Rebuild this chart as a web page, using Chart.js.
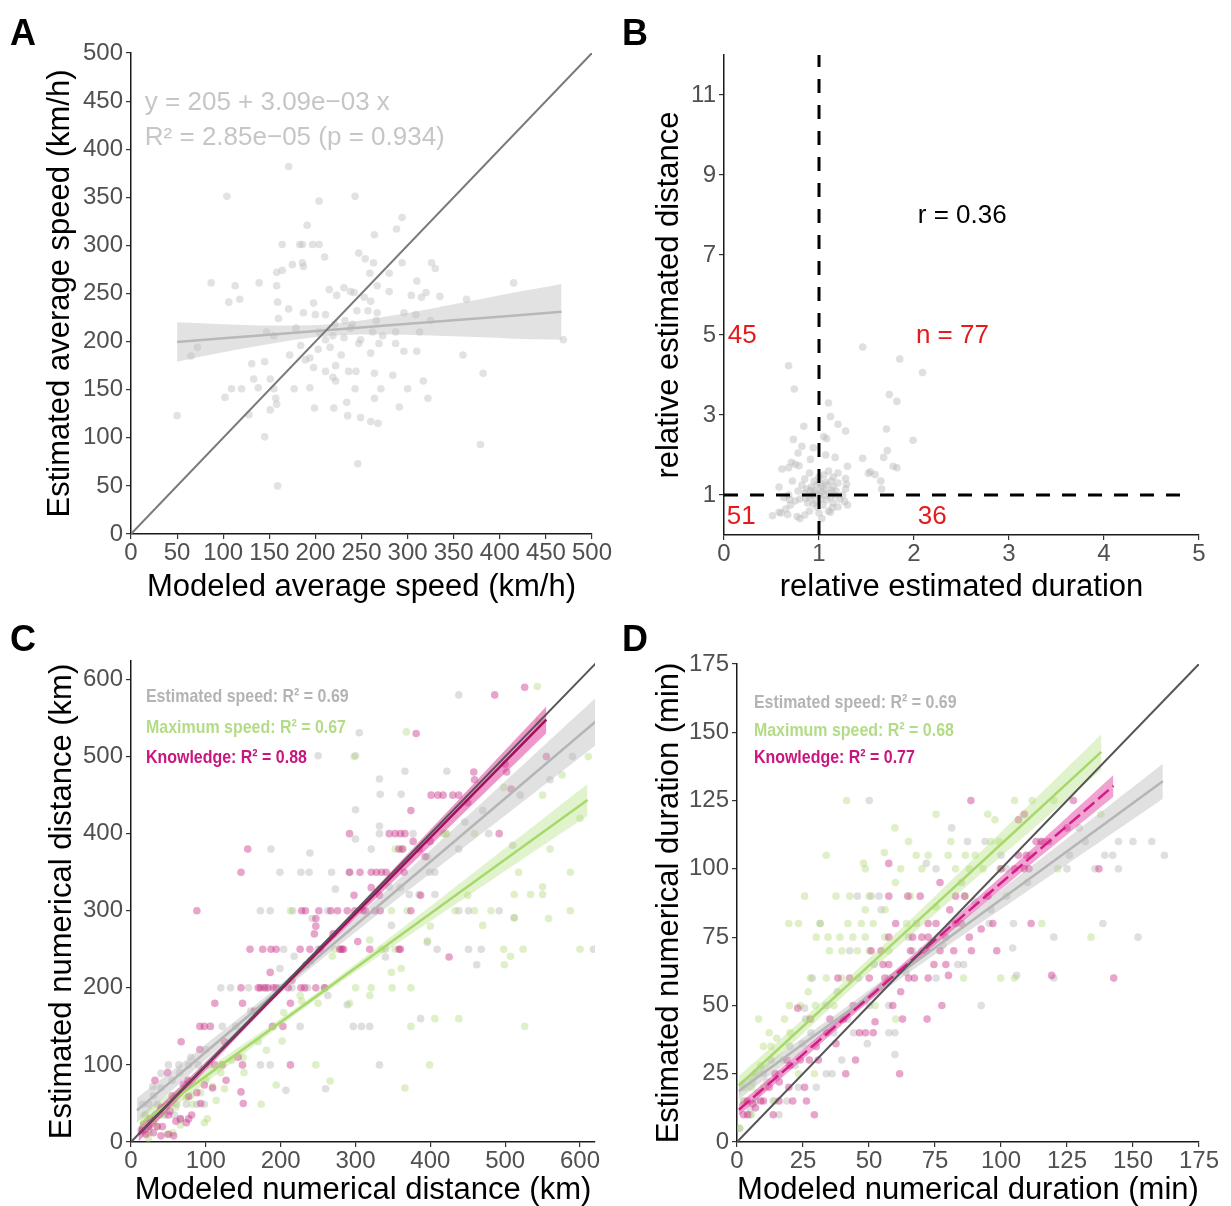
<!DOCTYPE html>
<html><head><meta charset="utf-8">
<script src="https://cdn.jsdelivr.net/npm/chart.js@4.4.0/dist/chart.umd.min.js"></script>
<style>
html,body{margin:0;padding:0;background:#fff;}
#wrap{position:relative;width:1231px;height:1206px;overflow:hidden;background:#fff;}
canvas{position:absolute;}
</style></head><body><div id="wrap">
<canvas id="cA" width="615" height="603" style="left:0;top:0"></canvas>
<canvas id="cB" width="616" height="603" style="left:615px;top:0"></canvas>
<canvas id="cC" width="615" height="603" style="left:0;top:603px"></canvas>
<canvas id="cD" width="616" height="603" style="left:615px;top:603px"></canvas>
</div>
<script>
// ---------------- DATA ----------------
// Panel A: modeled vs estimated average speed (km/h)
const aPoints = [[171,382],[104,351],[243,351],[204,346],[294,329],[191,321],[288,317],[164,301],[183,301],[186,301],[197,301],[204,301],[264,311],[247,292],[254,286],[263,282],[294,282],[326,282],[330,276],[186,282],[187,278],[210,288],[164,274],[158,272],[280,271],[259,271],[87,261],[139,261],[113,258],[415,261],[310,263],[364,244],[118,244],[106,241],[159,241],[198,240],[231,256],[215,254],[238,252],[242,251],[280,252],[320,251],[304,248],[315,246],[335,247],[267,258],[223,248],[253,246],[260,242],[171,234],[187,230],[200,228],[211,228],[245,232],[257,232],[267,230],[296,230],[309,228],[325,222],[160,224],[147,210],[155,206],[179,214],[204,210],[219,206],[231,204],[238,214],[249,202],[262,210],[273,206],[287,210],[313,210],[72,194],[65,185],[469,202],[360,186],[172,186],[184,196],[194,183],[203,192],[216,194],[228,186],[247,198],[260,188],[269,198],[287,198],[296,190],[310,190],[131,177],[145,179],[189,181],[198,173],[211,169],[222,175],[236,169],[244,169],[264,167],[284,165],[382,167],[133,161],[151,161],[219,163],[317,159],[109,151],[120,151],[138,152],[155,151],[177,151],[194,152],[222,159],[243,151],[271,151],[300,151],[102,142],[157,141],[264,141],[322,141],[234,137],[199,131],[220,131],[151,129],[158,135],[128,124],[50,123],[235,123],[249,121],[260,117],[268,115],[291,132],[145,101],[379,93],[246,73],[159,50],[158,258],[175,280],[221,218],[232,222],[240,218],[211,202],[266,222]];
const aFitX = [50, 100, 150, 215, 280, 350, 410, 467];
const aFitY = [199.6, 203.4, 207.1, 212.0, 216.9, 222.2, 226.7, 231.0];
const aFitLo = [179.1, 188.8, 197.5, 206.0, 207.3, 205.5, 203.3, 202.0];
const aFitHi = [220.1, 218.0, 216.7, 218.0, 226.5, 238.9, 250.1, 260.0];
const aTicks = [0, 50, 100, 150, 200, 250, 300, 350, 400, 450, 500];
const aText = ['y = 205 + 3.09e\u221203 x', 'R\u00b2 = 2.85e\u221205 (p = 0.934)'];

// Panel B: relative estimated duration vs relative estimated distance
const bPoints = [[1.46,4.70],[1.85,4.40],[2.09,4.06],[0.68,4.23],[0.74,3.65],[1.74,3.51],[1.82,3.34],[1.10,3.30],[1.12,2.96],[1.20,2.77],[0.84,2.72],[1.28,2.60],[1.71,2.65],[1.05,2.46],[1.99,2.37],[0.73,2.39],[1.08,2.41],[0.82,2.22],[0.94,2.18],[1.72,2.11],[0.78,2.05],[1.07,2.00],[1.68,1.94],[1.46,1.92],[0.91,1.89],[1.17,1.94],[0.71,1.82],[0.75,1.77],[0.79,1.73],[1.78,1.72],[1.82,1.68],[1.30,1.72],[0.61,1.65],[0.68,1.68],[1.52,1.54],[1.59,1.51],[1.65,1.35],[1.66,1.15],[1.54,1.58],[1.28,1.41],[1.29,1.27],[0.51,0.48],[0.58,0.57],[0.67,0.51],[0.77,0.46],[0.80,0.41],[1.03,0.41],[1.12,0.57],[1.20,0.70],[1.27,0.84],[0.58,1.20],[0.63,0.94],[0.69,0.89],[0.85,1.05],[0.90,0.95],[0.95,1.10],[1.00,1.00],[1.02,0.90],[1.05,1.15],[1.08,1.25],[1.10,1.05],[1.12,0.95],[1.15,1.20],[1.18,1.10],[1.20,1.30],[0.92,1.20],[0.88,0.80],[0.80,0.90],[0.78,1.10],[0.75,0.85],[0.70,0.75],[0.65,0.65],[0.60,0.55],[0.98,0.70],[1.04,0.75],[1.10,0.60],[1.15,0.80],[1.22,0.90],[1.25,1.00],[0.95,1.35],[1.00,1.45],[1.05,1.50],[1.10,1.60],[0.85,1.40],[0.90,1.55],[1.15,1.45],[1.20,1.55],[0.82,1.25],[0.96,0.85],[1.02,1.20],[1.06,1.00],[0.93,1.00],[0.87,1.15],[1.13,1.35],[0.72,1.35],[0.68,1.00],[1.28,1.15],[1.30,0.75],[1.00,0.55],[0.90,0.60],[0.85,0.50],[1.17,1.00],[0.98,1.25],[0.97,1.05],[1.03,1.08],[1.08,0.88],[0.91,1.12],[1.13,1.12],[0.86,0.92],[1.07,1.32],[0.94,0.78],[1.01,1.30],[1.14,0.68]];
const bXTicks = [0, 1, 2, 3, 4, 5];
const bYTicks = [1, 3, 5, 7, 9, 11];
const bLabels = [
  {text: 'r = 0.36', x: 2.04, y: 7.98, color: '#000000'},
  {text: '45', x: 0.04, y: 4.98, color: '#e41a1c'},
  {text: 'n = 77', x: 2.02, y: 4.98, color: '#e41a1c'},
  {text: '51', x: 0.03, y: 0.45, color: '#e41a1c'},
  {text: '36', x: 2.04, y: 0.45, color: '#e41a1c'}
];

// Panel C: modeled vs estimated numerical distance (km)
const cEstimated = [[438,580],[305,531],[250,501],[300,501],[422,481],[366,481],[332,471],[333,451],[361,451],[300,431],[446,415],[478,400],[438,380],[396,370],[332,410],[332,400],[377,400],[187,380],[321,380],[239,375],[300,393],[510,385],[199,350],[227,350],[238,350],[268,350],[292,350],[399,350],[406,350],[385,321],[372,321],[406,321],[345,331],[273,328],[173,300],[186,300],[216,300],[242,290],[263,300],[438,300],[451,300],[492,300],[512,291],[348,281],[396,259],[451,250],[468,250],[618,250],[409,250],[340,250],[250,250],[204,250],[218,241],[340,240],[462,230],[199,225],[120,200],[133,200],[157,200],[199,200],[215,200],[236,200],[258,200],[263,190],[289,178],[297,150],[308,150],[319,150],[226,150],[122,150],[387,160],[332,100],[173,100],[186,100],[104,100],[50,100],[64,100],[77,100],[90,100],[260,69],[207,67],[40,89],[29,72],[16,49],[24,49],[35,49],[48,49],[61,49],[74,49],[88,49],[98,49],[19,35],[32,35],[45,35],[58,35],[13,15],[24,17],[66,30],[30,60],[40,70],[55,80],[65,90],[80,110],[100,120],[140,150],[160,170],[180,200],[280,250],[360,330],[420,400],[470,430],[520,450],[560,470],[590,500]];
const cMaximum = [[543,591],[545,545],[611,500],[576,476],[498,460],[550,450],[368,532],[298,500],[417,400],[422,400],[459,400],[353,380],[362,380],[587,350],[518,350],[550,331],[550,321],[534,321],[512,321],[587,300],[558,290],[470,281],[512,291],[369,300],[348,300],[459,300],[481,300],[433,300],[213,300],[600,250],[498,250],[524,250],[507,241],[499,230],[396,261],[353,250],[335,250],[319,262],[348,220],[361,225],[269,241],[272,250],[300,200],[321,200],[349,200],[374,200],[319,190],[228,183],[226,190],[292,180],[204,168],[181,119],[202,131],[247,100],[526,150],[374,150],[406,160],[266,79],[366,70],[194,74],[174,49],[151,90],[135,106],[125,69],[114,54],[102,30],[98,25],[93,64],[82,49],[74,57],[66,22],[56,12],[48,10],[35,20],[24,12],[23,5],[77,79],[109,72],[399,100],[438,160],[30,25],[40,35],[60,45],[80,60],[100,80],[120,90],[150,110],[170,130],[250,180],[400,280],[450,320],[560,380],[600,420]];
const cKnowledge = [[526,590],[486,580],[381,530],[555,500],[458,480],[459,470],[508,458],[401,450],[410,450],[417,450],[430,450],[438,450],[502,480],[374,430],[292,400],[345,400],[353,400],[360,400],[366,400],[492,400],[377,390],[156,380],[358,380],[363,380],[385,380],[393,370],[147,350],[292,350],[306,350],[321,350],[328,350],[335,350],[341,350],[365,350],[321,330],[298,320],[332,320],[387,320],[88,300],[228,300],[233,300],[251,300],[267,300],[276,300],[289,300],[299,300],[313,300],[326,300],[333,300],[374,300],[247,290],[247,280],[245,270],[303,260],[159,250],[176,250],[187,250],[194,250],[226,250],[239,250],[253,250],[279,250],[282,250],[284,250],[319,250],[358,250],[360,250],[425,240],[234,230],[186,220],[147,200],[170,200],[173,200],[178,200],[183,200],[190,200],[194,200],[210,200],[227,200],[232,200],[247,200],[259,200],[112,180],[149,180],[213,180],[92,150],[98,150],[106,150],[189,150],[203,150],[67,130],[92,120],[143,110],[112,100],[122,100],[149,100],[213,100],[49,90],[32,80],[76,80],[127,80],[109,70],[147,65],[150,50],[93,50],[52,40],[66,30],[77,30],[74,25],[20,10],[30,12],[40,8],[50,10],[57,8],[24,20],[35,20],[42,20],[60,27],[81,35],[50,35],[88,64],[98,74],[77,59],[15,15],[25,30],[40,45],[55,60],[70,75],[125,130],[165,170],[215,210],[240,235],[270,270],[310,300],[400,390],[450,440],[500,490]];
const cEstFit = {x: [8, 100, 210, 320, 430, 530, 624], y: [41.0, 116.7, 207.2, 297.8, 388.3, 470.6, 548.0], lo: [25.0, 106.6, 201.2, 287.7, 371.1, 446.3, 517.0], hi: [57.0, 126.8, 213.2, 307.9, 405.5, 494.9, 579.0]};
const cMaxFit = {x: [12, 120, 240, 360, 480, 610], y: [23.4, 99.4, 183.7, 268.1, 352.4, 443.8], lo: [10.3, 91.7, 179.7, 260.4, 338.7, 423.1], hi: [36.5, 107.1, 187.7, 275.8, 366.1, 464.5]};
const cKnowFit = {x: [10, 100, 200, 300, 420, 555], y: [10.0, 98.8, 197.5, 296.2, 414.7, 547.9], lo: [0.3, 93.1, 194.5, 290.5, 403.6, 530.4], hi: [19.7, 104.5, 200.5, 301.9, 425.8, 565.4]};
const cTicks = [0, 100, 200, 300, 400, 500, 600];
const cLegend = ['Estimated speed: R\u00b2 = 0.69', 'Maximum speed: R\u00b2 = 0.67', 'Knowledge: R\u00b2 = 0.88'];

// Panel D: modeled vs estimated numerical duration (min)
const dEstimated = [[50.1,125],[81.3,115],[87.3,110],[94,110],[129.6,115],[131.9,110],[144.5,110],[157.1,110],[161.9,105],[139.3,105],[142.3,105],[125.9,105],[71.7,102],[111.1,105],[75.4,100],[102.1,100],[144.5,100],[135.6,100],[45.6,90],[50.8,90],[53.8,90],[102.1,90],[96.2,85],[54.6,85],[138.6,80],[104.7,80],[95.5,80],[31.5,80],[120,75],[151.9,75],[104.4,71],[42.7,70],[66.5,70],[83.6,65],[85.8,65],[28.5,60],[75.4,60],[105.9,61],[120,60],[92.5,50],[50.1,50],[25.6,49],[57.5,40],[59.8,40],[44.2,40],[49.4,36],[59.8,32],[39.7,30],[36,25],[33.8,25],[30,20],[23.3,20],[18.9,15],[13.7,15],[7,15],[2.5,15],[15.9,10],[4.8,10],[1,5],[12.9,30],[15.9,25],[11.4,22],[36.7,40],[41.9,45],[24.8,36],[33.8,50],[57.5,50],[65,75],[70,70],[78,72],[90,88],[110,95],[100,105],[64,62],[5,12],[8,18],[10,25],[20,35],[22,28],[28,40],[26,45],[38,55],[46,60],[52,65],[68,80],[85,95],[115,110],[125,100],[150,110]];
const dMaximum = [[41.5,125],[75.4,120],[59.8,115],[65,110],[81,110],[105.1,125],[111.8,125],[97.7,118],[99.2,110],[96.2,110],[33.8,105],[55.8,106],[67.9,105],[72.4,105],[86.5,105],[90.2,105],[47.9,102],[48.6,100],[62,100],[82.8,100],[88,100],[93.2,100],[99.6,100],[121.5,100],[25.6,90],[37.5,90],[42.7,90],[65.7,90],[86.5,90],[75.4,86],[48.6,85],[56.1,85],[19.6,80],[23.3,80],[31.5,80],[47.1,80],[51.6,80],[64.2,80],[115.5,80],[30,75],[34.5,75],[39,75],[43.9,75],[48.6,75],[56,75],[134.1,75],[39.7,70],[45.6,70],[50.1,70],[57.5,70],[27.8,60],[33.8,60],[39.7,60],[57.5,60],[85.8,60],[99.9,60],[105.1,60],[19.9,50],[29.7,50],[36.7,50],[52.3,50],[60.1,45],[8.2,45],[20.1,40],[12.2,40],[10,35],[12.9,35],[17.4,30],[23.3,25],[29.3,25],[7,25],[5.5,20],[10,20],[2.5,15],[14.4,15],[5.5,10],[1,5],[137.8,120],[3,20],[6,22],[9,28],[15,38],[18,45],[24,50],[27,55],[35,70],[42,80],[50,90],[60,95],[70,100],[80,105],[95,120],[120,125]];
const dKnowledge = [[88.6,125],[127.4,125],[108.8,120],[106.6,118],[113.3,110],[115.5,110],[106.6,105],[109.6,105],[57.5,102],[108.8,100],[105.1,100],[137.1,100],[76.9,95],[69.4,90],[82.8,90],[86.2,90],[64.7,90],[80.6,85],[57.5,90],[60.1,80],[72.4,80],[75.4,80],[82.8,80],[96.9,80],[111.4,80],[92.5,78],[66.5,75],[72.4,75],[79.1,75],[88,75],[57.5,75],[65.7,70],[71.7,70],[76.9,70],[82.1,70],[88.8,70],[98.4,70],[54.6,70],[50.8,70],[57.5,65],[74.6,65],[79.1,65],[65,60],[67.2,60],[72.4,60],[80.1,61],[119.2,61],[142.7,60],[42.7,60],[50.1,60],[38.2,60],[55.3,65],[62,55],[59,50],[77.6,50],[23,49],[35.2,45],[40.4,45],[52.3,44],[62.7,45],[72,45],[27.8,45],[46.4,40],[48.7,40],[51.6,40],[37.5,36],[44.9,30],[30.8,30],[27.4,30],[18.9,30],[41.2,25],[61.6,25],[14.4,25],[19.6,20],[25.6,20],[12.2,20],[21.1,15],[26.3,15],[15.9,15],[10,15],[4,15],[13.7,10],[2.5,10],[29.3,10],[7,12.5],[110.6,100],[4,10],[6,14],[9,15],[16,22],[20,28],[24,30],[30,35],[34,40],[44,50],[56,60],[70,75],[85,80],[95,90],[100,100],[118,110],[125,115]];
const dEstFit = {x: [0.7, 25, 45, 80, 120, 161.3], y: [18.7, 35.9, 50.0, 74.7, 102.9, 132.1], lo: [15.6, 33.6, 48.0, 72.0, 98.4, 125.7], hi: [21.8, 38.2, 52.0, 77.4, 107.4, 138.5]};
const dMaxFit = {x: [0.7, 20, 40, 70, 100, 138], y: [20.7, 37.9, 55.7, 82.3, 109.0, 142.8], lo: [17.2, 35.1, 53.2, 79.2, 104.5, 136.3], hi: [24.2, 40.7, 58.2, 85.4, 113.5, 149.3]};
const dKnowFit = {x: [0.7, 25, 50, 80, 110, 142.6], y: [11.8, 32.1, 53.0, 78.1, 103.2, 130.4], lo: [9.7, 30.3, 51.5, 76.2, 100.6, 126.4], hi: [13.9, 33.9, 54.5, 80.0, 105.8, 134.4]};
const dTicks = [0, 25, 50, 75, 100, 125, 150, 175];
const dLegend = ['Estimated speed: R\u00b2 = 0.69', 'Maximum speed: R\u00b2 = 0.68', 'Knowledge: R\u00b2 = 0.77'];

// ---------------- DRAWING ----------------
const FONT = '"Liberation Sans", Arial, Helvetica, sans-serif';
const toXY = arr => arr.map(p => ({x: p[0], y: p[1]}));
const zip = (xs, ys) => xs.map((x, i) => ({x: x, y: ys[i]}));

function scatterDs(points, color, r, order) {
  return {type: 'scatter', data: toXY(points), backgroundColor: color, borderWidth: 0,
          pointRadius: r, pointHoverRadius: r, order: order};
}
function lineDs(pts, color, width, order, dash) {
  return {type: 'line', data: pts, borderColor: color, borderWidth: width, pointRadius: 0,
          fill: false, tension: 0, order: order, borderDash: dash || [], clip: 0};
}
function bandDs(xs, lo, hi, color, order) {
  return [
    {type: 'line', data: zip(xs, hi), borderWidth: 0, borderColor: 'rgba(0,0,0,0)', pointRadius: 0,
     fill: '+1', backgroundColor: color, tension: 0.35, order: order},
    {type: 'line', data: zip(xs, lo), borderWidth: 0, borderColor: 'rgba(0,0,0,0)', pointRadius: 0,
     fill: false, tension: 0.35, order: order}
  ];
}

function makeChart(id, p) {
  const cv = document.getElementById(id);
  const W = cv.width, H = cv.height;
  const textPlugin = {
    id: 'txt_' + id,
    afterDatasetsDraw(chart) {
      const ctx = chart.ctx;
      const xs = chart.scales.x, ys = chart.scales.y;
      ctx.save();
      (p.texts || []).forEach(t => {
        ctx.save();
        ctx.font = t.font;
        ctx.fillStyle = t.color;
        ctx.textAlign = 'left';
        ctx.textBaseline = 'middle';
        const px = xs.getPixelForValue(t.x), py = ys.getPixelForValue(t.y);
        ctx.translate(px, py);
        if (t.sx) ctx.scale(t.sx, 1);
        ctx.fillText(t.text, 0, 0);
        ctx.restore();
      });
      ctx.font = 'bold 36px ' + FONT;
      ctx.fillStyle = '#000';
      ctx.textAlign = 'left';
      ctx.textBaseline = 'alphabetic';
      ctx.fillText(p.letter, p.letterX, p.letterY);
      ctx.restore();
    }
  };
  const axisCommon = (min, max, ticks) => ({
    type: 'linear', min: min, max: max,
    afterBuildTicks: s => { s.ticks = ticks.map(v => ({value: v})); },
    grid: {display: true, drawOnChartArea: false, drawTicks: true, tickLength: 5, color: '#333', lineWidth: 1.2},
    border: {display: true, color: '#1a1a1a', width: 1.5},
    ticks: {font: {family: FONT, size: 24}, color: '#505050', maxRotation: 0, minRotation: 0, autoSkip: false}
  });
  const xAxis = Object.assign(axisCommon(p.xMin, p.xMax, p.xTicks), {
    afterFit: s => { s.height = H - p.area.bottom; },
    title: {display: true, text: p.xTitle, color: '#000', font: {family: FONT, size: 31, lineHeight: 1},
            padding: {top: p.xTitlePad, bottom: 0}}
  });
  xAxis.ticks.padding = 0;
  const yAxis = Object.assign(axisCommon(p.yMin, p.yMax, p.yTicks), {
    afterFit: s => { s.width = p.area.left; },
    title: {display: true, text: p.yTitle, color: '#000', font: {family: FONT, size: 31, lineHeight: 1},
            padding: {top: p.yTitlePad, bottom: 0}}
  });
  yAxis.ticks.padding = 3;
  return new Chart(cv.getContext('2d'), {
    type: 'scatter',
    data: {datasets: p.datasets},
    options: {
      responsive: false, animation: false, devicePixelRatio: 1,
      layout: {padding: {left: 0, top: p.area.top, right: W - p.area.right, bottom: 0}},
      plugins: {legend: {display: false}, tooltip: {enabled: false}},
      scales: {x: xAxis, y: yAxis}
    },
    plugins: [textPlugin]
  });
}

const PR = 3.8;

// Panel A
makeChart('cA', {
  area: {left: 131, right: 592, top: 53, bottom: 534},
  xMin: 0, xMax: 500, yMin: 0, yMax: 500, xTicks: aTicks, yTicks: aTicks,
  xTitle: 'Modeled average speed (km/h)', yTitle: 'Estimated average speed (km/h)',
  xTitlePad: 5.5, yTitlePad: 44.5,
  letter: 'A', letterX: 10, letterY: 45,
  datasets: [
    lineDs([{x: 0, y: 0}, {x: 500, y: 500}], '#7a7a7a', 2, 1),
    lineDs(zip(aFitX, aFitY), '#b8b8b8', 2.5, 2),
    ...bandDs(aFitX, aFitLo, aFitHi, 'rgba(185,185,185,0.42)', 3),
    scatterDs(aPoints, 'rgba(190,190,190,0.45)', PR, 5)
  ],
  texts: [
    {text: aText[0], x: 15, y: 448, color: '#c6c6c6', font: '26px ' + FONT},
    {text: aText[1], x: 15, y: 411.5, color: '#c6c6c6', font: '26px ' + FONT}
  ]
});

// Panel B
makeChart('cB', {
  area: {left: 109, right: 584, top: 55, bottom: 535},
  xMin: 0, xMax: 5, yMin: 0, yMax: 12, xTicks: bXTicks, yTicks: bYTicks,
  xTitle: 'relative estimated duration', yTitle: 'relative estimated distance',
  xTitlePad: 5.8, yTitlePad: 38.5,
  letter: 'B', letterX: 7, letterY: 45,
  datasets: [
    lineDs([{x: 1, y: 0}, {x: 1, y: 12}], '#000', 3, 1, [14, 12]),
    lineDs([{x: 0, y: 1}, {x: 4.9, y: 1}], '#000', 3, 1, [14, 12]),
    scatterDs(bPoints, 'rgba(185,185,185,0.45)', PR, 5)
  ],
  texts: bLabels.map(l => ({text: l.text, x: l.x, y: l.y, color: l.color, font: '26px ' + FONT}))
});

// Panel C
const GRAY_PT = 'rgba(170,170,170,0.38)', GREEN_PT = 'rgba(170,215,110,0.38)', PINK_PT = 'rgba(200,40,130,0.42)';
makeChart('cC', {
  area: {left: 131, right: 595, top: 58, bottom: 539},
  xMin: 0, xMax: 620, yMin: 0, yMax: 624, xTicks: cTicks, yTicks: cTicks,
  xTitle: 'Modeled numerical distance (km)', yTitle: 'Estimated numerical distance (km)',
  xTitlePad: 0.5, yTitlePad: 46.5,
  letter: 'C', letterX: 10, letterY: 48,
  datasets: [
    lineDs([{x: 0, y: 0}, {x: 624, y: 624}], '#555555', 2, 1),
    lineDs(zip(cKnowFit.x, cKnowFit.y), '#a0105f', 2.5, 2),
    lineDs(zip(cEstFit.x, cEstFit.y), '#b5b5b5', 2.5, 2),
    lineDs(zip(cMaxFit.x, cMaxFit.y), '#a6d96a', 2.5, 2),
    ...bandDs(cKnowFit.x, cKnowFit.lo, cKnowFit.hi, 'rgba(222,50,150,0.5)', 3),
    ...bandDs(cEstFit.x, cEstFit.lo, cEstFit.hi, 'rgba(180,180,180,0.4)', 3),
    ...bandDs(cMaxFit.x, cMaxFit.lo, cMaxFit.hi, 'rgba(170,220,110,0.35)', 3),
    scatterDs(cKnowledge, PINK_PT, PR, 5),
    scatterDs(cMaximum, GREEN_PT, PR, 5),
    scatterDs(cEstimated, GRAY_PT, PR, 5)
  ],
  texts: [
    {text: cLegend[0], x: 20, y: 578, color: '#b4b4b4', font: 'bold 19px ' + FONT, sx: 0.84},
    {text: cLegend[1], x: 20, y: 537, color: '#b3dc88', font: 'bold 19px ' + FONT, sx: 0.84},
    {text: cLegend[2], x: 20, y: 498, color: '#c8157f', font: 'bold 19px ' + FONT, sx: 0.84}
  ]
});

// Panel D
makeChart('cD', {
  area: {left: 122, right: 584, top: 61, bottom: 539},
  xMin: 0, xMax: 175, yMin: 0, yMax: 175, xTicks: dTicks, yTicks: dTicks,
  xTitle: 'Modeled numerical duration (min)', yTitle: 'Estimated numerical duration (min)',
  xTitlePad: 0.5, yTitlePad: 38.5,
  letter: 'D', letterX: 7, letterY: 48,
  datasets: [
    lineDs([{x: 0, y: 0}, {x: 175, y: 175}], '#555555', 2, 1),
    lineDs(zip(dKnowFit.x, dKnowFit.y), '#d41b86', 2.5, 2, [14, 5]),
    lineDs(zip(dEstFit.x, dEstFit.y), '#b5b5b5', 2.5, 2),
    lineDs(zip(dMaxFit.x, dMaxFit.y), '#a6d96a', 2.5, 2),
    ...bandDs(dKnowFit.x, dKnowFit.lo, dKnowFit.hi, 'rgba(222,50,150,0.45)', 3),
    ...bandDs(dEstFit.x, dEstFit.lo, dEstFit.hi, 'rgba(180,180,180,0.4)', 3),
    ...bandDs(dMaxFit.x, dMaxFit.lo, dMaxFit.hi, 'rgba(170,220,110,0.35)', 3),
    scatterDs(dKnowledge, PINK_PT, PR, 5),
    scatterDs(dMaximum, GREEN_PT, PR, 5),
    scatterDs(dEstimated, GRAY_PT, PR, 5)
  ],
  texts: [
    {text: dLegend[0], x: 6.4, y: 160.8, color: '#b4b4b4', font: 'bold 19px ' + FONT, sx: 0.84},
    {text: dLegend[1], x: 6.4, y: 150.6, color: '#b3dc88', font: 'bold 19px ' + FONT, sx: 0.84},
    {text: dLegend[2], x: 6.4, y: 140.8, color: '#c8157f', font: 'bold 19px ' + FONT, sx: 0.84}
  ]
});
</script>
</body></html>
